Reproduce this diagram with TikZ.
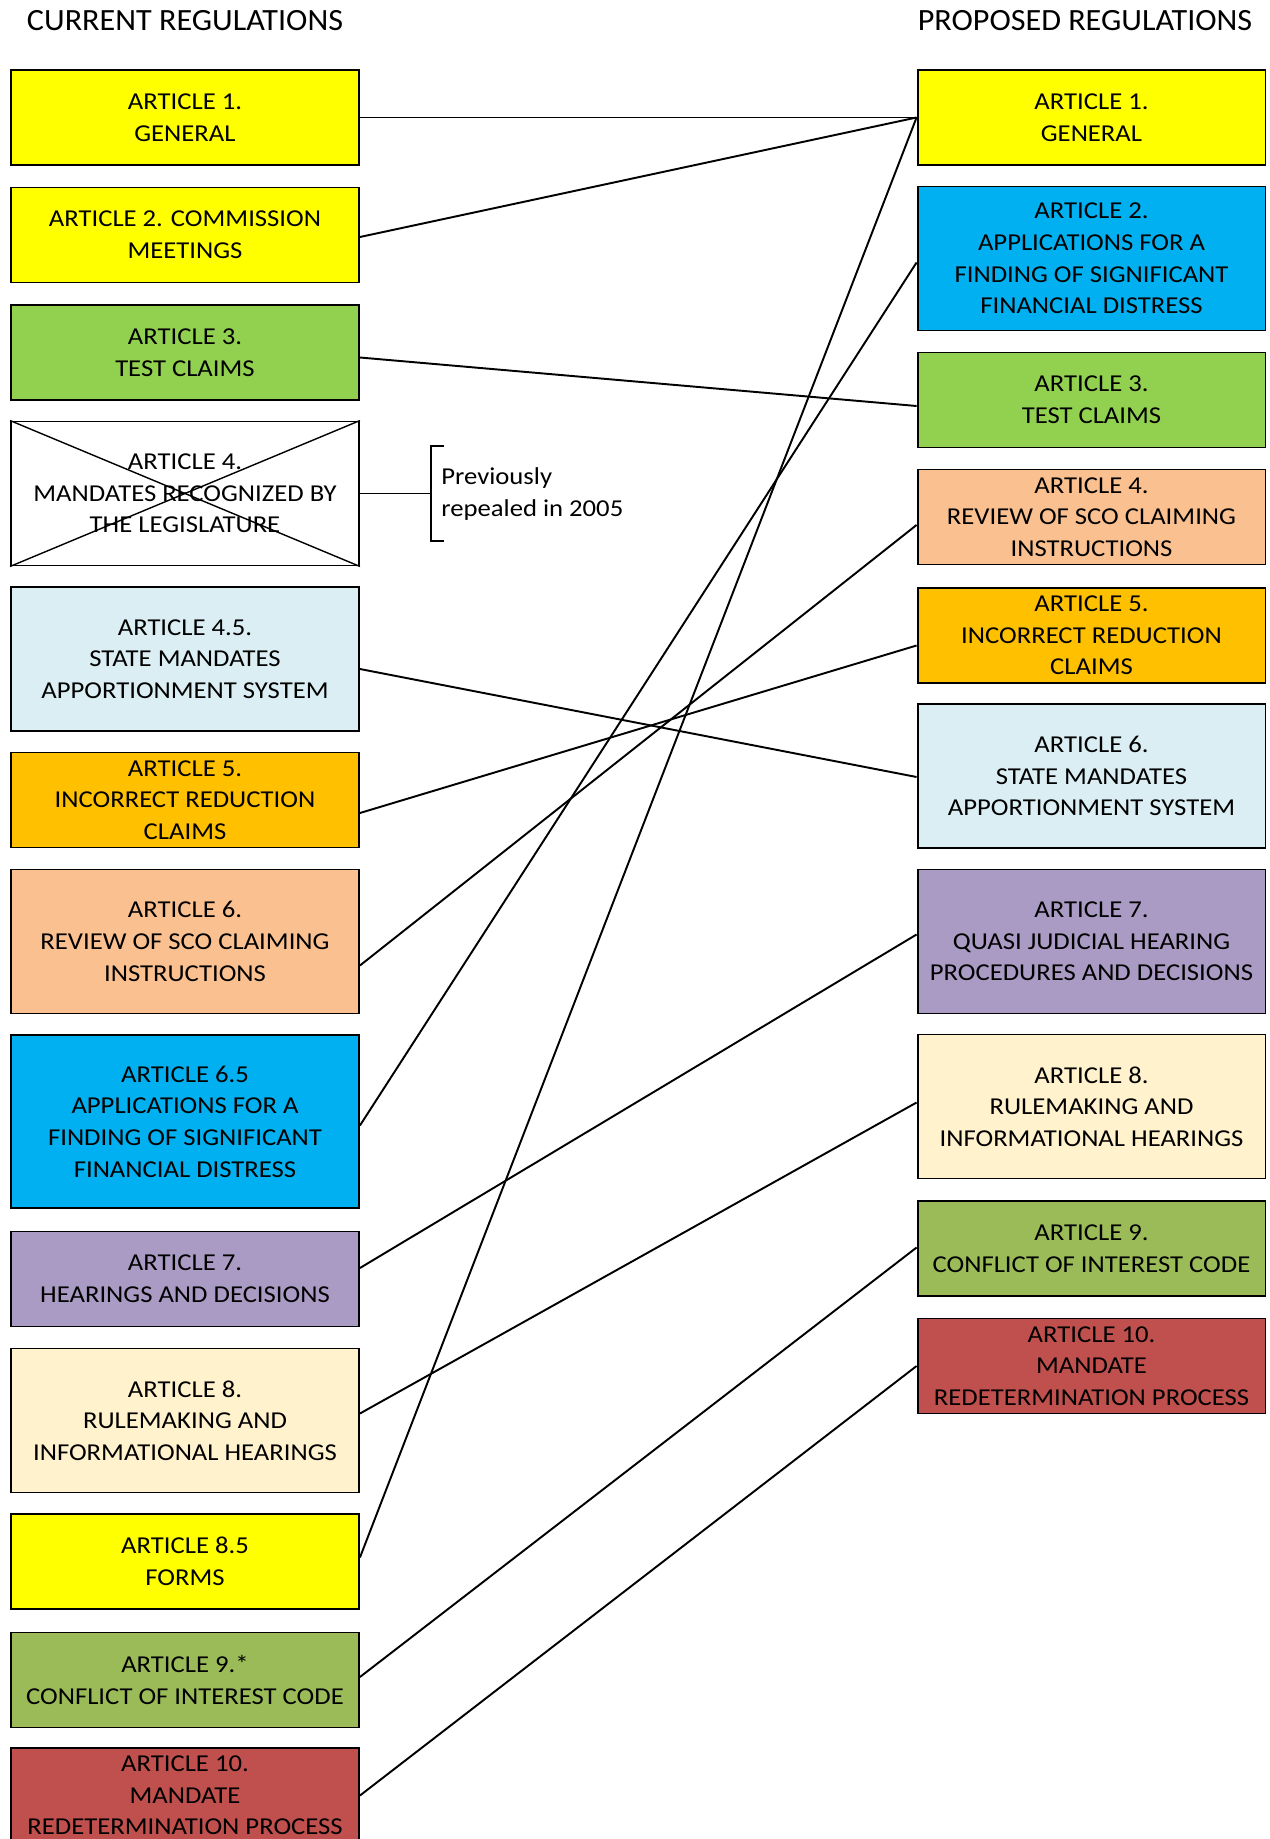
\documentclass[tikz,border=0pt]{standalone}
\usepackage{fontspec}
\setmainfont{Carlito}
\newfontfamily\artfam[FakeStretch=1.1]{Carlito}
\newfontfamily\headfam[FakeStretch=1.04]{Carlito}
\usepackage{tikz}
\usetikzlibrary{calc}
\definecolor{artyellow}{HTML}{FFFF00}
\definecolor{artgreen}{HTML}{92D050}
\definecolor{artpale}{HTML}{DAEEF3}
\definecolor{artorange}{HTML}{FFC000}
\definecolor{artpeach}{HTML}{FAC090}
\definecolor{artblue}{HTML}{00B0F0}
\definecolor{artpurple}{HTML}{AA9BC4}
\definecolor{artcream}{HTML}{FFF2CC}
\definecolor{artolive}{HTML}{9BBB59}
\definecolor{artred}{HTML}{C0504D}
\def\artfont{\artfam\fontsize{13.8}{18}\selectfont}
\def\headfont{\headfam\fontsize{17.6}{21}\selectfont}
\tikzset{
	artbox/.style={draw, line width=1.1pt, minimum width=6.96cm, inner sep=0pt, align=center, font=\artfont},
	twoline/.style={artbox, minimum height=1.9cm},
	threeline/.style={artbox, minimum height=2.88cm},
	fourline/.style={artbox, minimum height=3.46cm},
	link/.style={line width=1.1pt}
}

\begin{document}
\begin{tikzpicture}[x=0.02cm, y=-0.02cm]
			%%%%% START %%%%%
			\useasboundingbox (0, 0) rectangle (1270, 1839);
			
			\node[font=\headfont] (curhead) at (185, 21) {CURRENT REGULATIONS};
			\node[font=\headfont] (prophead) at (1085, 21) {PROPOSED REGULATIONS};
			
			% current regulations
			\node[twoline, fill=artyellow] (l1) at (185, 117.5) {ARTICLE 1.\\GENERAL};
			\node[twoline, fill=artyellow] (l2) at (185, 235) {ARTICLE 2. COMMISSION\\MEETINGS};
			\node[twoline, fill=artgreen] (l3) at (185, 352.5) {ARTICLE 3.\\TEST CLAIMS};
			\node[threeline, fill=white] (l4) at (185, 493.5) {ARTICLE 4.\\MANDATES RECOGNIZED BY\\THE LEGISLATURE};
			\node[threeline, fill=artpale] (l45) at (185, 659) {ARTICLE 4.5.\\STATE MANDATES\\APPORTIONMENT SYSTEM};
			\node[twoline, fill=artorange] (l5) at (185, 800) {ARTICLE 5.\\INCORRECT REDUCTION\\CLAIMS};
			\node[threeline, fill=artpeach] (l6) at (185, 941.5) {ARTICLE 6.\\REVIEW OF SCO CLAIMING\\INSTRUCTIONS};
			\node[fourline, fill=artblue] (l65) at (185, 1121.5) {ARTICLE 6.5\\APPLICATIONS FOR A\\FINDING OF SIGNIFICANT\\FINANCIAL DISTRESS};
			\node[twoline, fill=artpurple] (l7) at (185, 1279) {ARTICLE 7.\\HEARINGS AND DECISIONS};
			\node[threeline, fill=artcream] (l8) at (185, 1420.5) {ARTICLE 8.\\RULEMAKING AND\\INFORMATIONAL HEARINGS};
			\node[twoline, fill=artyellow] (l85) at (185, 1561.5) {ARTICLE 8.5\\FORMS};
			\node[twoline, fill=artolive] (l9) at (185, 1680) {ARTICLE 9.*\\CONFLICT OF INTEREST CODE};
			\node[twoline, fill=artred] (l10) at (185, 1795.5) {ARTICLE 10.\\MANDATE\\REDETERMINATION PROCESS};
			
			\draw[line width=0.8pt] (l4.north west) -- (l4.south east);
			\draw[line width=0.8pt] (l4.south west) -- (l4.north east);
			
			% proposed regulations
			\node[twoline, fill=artyellow] (r1) at (1091.5, 117.5) {ARTICLE 1.\\GENERAL};
			\node[threeline, fill=artblue] (r2) at (1091.5, 258.5) {ARTICLE 2.\\APPLICATIONS FOR A\\FINDING OF SIGNIFICANT\\FINANCIAL DISTRESS};
			\node[twoline, fill=artgreen] (r3) at (1091.5, 400) {ARTICLE 3.\\TEST CLAIMS};
			\node[twoline, fill=artpeach] (r4) at (1091.5, 517) {ARTICLE 4.\\REVIEW OF SCO CLAIMING\\INSTRUCTIONS};
			\node[twoline, fill=artorange] (r5) at (1091.5, 635.5) {ARTICLE 5.\\INCORRECT REDUCTION\\CLAIMS};
			\node[threeline, fill=artpale] (r6) at (1091.5, 776) {ARTICLE 6.\\STATE MANDATES\\APPORTIONMENT SYSTEM};
			\node[threeline, fill=artpurple] (r7) at (1091.5, 941.5) {ARTICLE 7.\\QUASI JUDICIAL HEARING\\PROCEDURES AND DECISIONS};
			\node[threeline, fill=artcream] (r8) at (1091.5, 1106.5) {ARTICLE 8.\\RULEMAKING AND\\INFORMATIONAL HEARINGS};
			\node[twoline, fill=artolive] (r9) at (1091.5, 1248.5) {ARTICLE 9.\\CONFLICT OF INTEREST CODE};
			\node[twoline, fill=artred] (r10) at (1091.5, 1366) {ARTICLE 10.\\MANDATE\\REDETERMINATION PROCESS};
			
			% repealed note
			\coordinate (brtop) at (444, 446);
			\coordinate (brbot) at (444, 541);
			\draw[link] (l4.east) -- (431, 493.5);
			\draw[line width=0.8pt] (brtop) -- (431, 446) -- (431, 541) -- (brbot);
			\node[anchor=west, align=left, inner sep=0pt, font=\artfont] (repnote) at (441, 494) {Previously\\repealed in 2005};
			
			% links
			\draw[link] (l1.east) -- (r1.west);
			\draw[link] ($(l2.east)+(0,2)$) -- (r1.west);
			\draw[link] ($(l3.east)+(0,5)$) -- ($(r3.west)+(0,6)$);
			\draw[link] ($(l45.east)+(0,10)$) -- ($(r6.west)+(0,1)$);
			\draw[link] ($(l5.east)+(0,13)$) -- ($(r5.west)+(0,10)$);
			\draw[link] ($(l6.east)+(0,24)$) -- ($(r4.west)+(0,8)$);
			\draw[link] ($(l65.east)+(0,4)$) -- ($(r2.west)+(0,4)$);
			\draw[link] ($(l7.east)+(0,-11)$) -- ($(r7.west)+(0,-7)$);
			\draw[link] ($(l8.east)+(0,-7)$) -- ($(r8.west)+(0,-4)$);
			\draw[link] ($(l85.east)+(0,-4)$) -- (r1.west);
			\draw[link] ($(l9.east)+(0,-3)$) -- ($(r9.west)+(0,-1)$);
			\draw[link] (l10.east) -- (r10.west);
			
			%%%%% END %%%%%
		\end{tikzpicture}
\end{document}
